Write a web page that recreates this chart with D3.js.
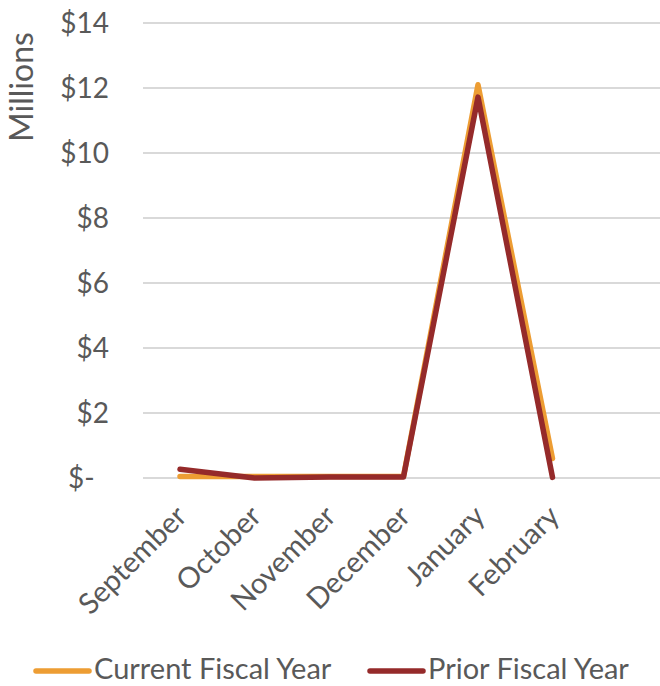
<!DOCTYPE html>
<html><head><meta charset="utf-8">
<script src="https://cdn.jsdelivr.net/npm/d3@7"></script>
<style>body{margin:0;background:#fff;} text{font-family:Lato, "Open Sans", sans-serif; fill:#595959;}</style>
</head><body>
<svg id="c" width="660" height="686"></svg>
<script>
const categories = ["September","October","November","December","January","February",""];
const currentFY = [0.05, 0.05, 0.05, 0.05, 12.1, 0.6];
const priorFY   = [0.27, 0.0, 0.03, 0.03, 11.72, 0.02];
const yTicks = [0,2,4,6,8,10,12,14];
const seriesNames = ["Current Fiscal Year","Prior Fiscal Year"];
const colors = ["#ED9D33","#952A2A"];

const svg = d3.select("#c");
const x = d3.scalePoint().domain(categories).range([180, 627]).padding(0);
const y = d3.scaleLinear().domain([0,14]).range([478, 23]);

// gridlines
svg.append("g").selectAll("line").data(yTicks).join("line")
  .attr("x1",143).attr("x2",660).attr("y1",d=>y(d)).attr("y2",d=>y(d))
  .attr("stroke","#D9D9D9").attr("stroke-width",2);

// y axis labels
const yAxis = d3.axisLeft(y).tickValues(yTicks).tickSize(0).tickPadding(0)
  .tickFormat(d => d===0 ? "$-\u00A0\u00A0" : "$"+d);
const ga = svg.append("g").attr("transform","translate(109,0)").call(yAxis);
ga.select(".domain").remove();
ga.selectAll("text").style("font-size","28px").attr("fill","#595959").attr("dy","0.35em");

// y title
svg.append("text").attr("transform","translate(33,87) rotate(-90)")
  .attr("text-anchor","middle").style("font-size","32px").text("Millions");

// x labels
const xAxis = d3.axisBottom(x).tickSize(0).tickPadding(0);
const gx = svg.append("g").attr("transform","translate(0,488)").call(xAxis);
gx.select(".domain").remove();
gx.selectAll("text").style("font-size","29px").attr("fill","#595959")
  .attr("text-anchor","end").attr("dy","0")
  .attr("transform","translate(8,30) rotate(-45)");

// lines
const line = d3.line().x((d,i)=>x(categories[i])).y(d=>y(d));
[currentFY, priorFY].forEach((s,k)=>{
  svg.append("path").datum(s).attr("d",line).attr("fill","none")
    .attr("stroke",colors[k]).attr("stroke-width",5.5)
    .attr("stroke-linecap","round").attr("stroke-linejoin","round");
});

// legend
const legX = [36, 370];
seriesNames.forEach((n,k)=>{
  svg.append("line").attr("x1",legX[k]).attr("x2",legX[k]+53).attr("y1",671).attr("y2",671)
    .attr("stroke",colors[k]).attr("stroke-width",5.5).attr("stroke-linecap","round");
  svg.append("text").attr("x",legX[k]+58).attr("y",679).style("font-size","29px").text(n);
});
</script>
</body></html>
